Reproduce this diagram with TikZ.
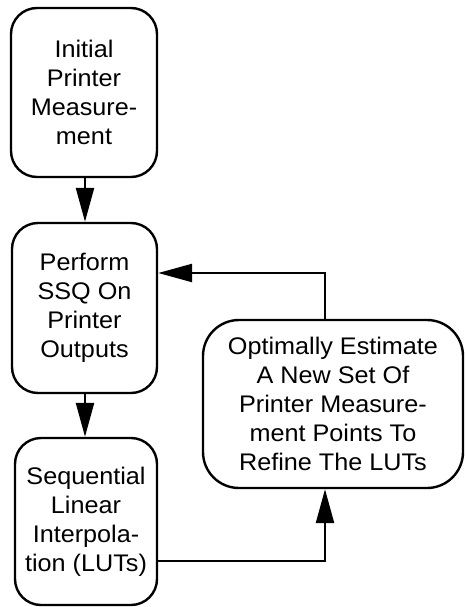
\documentclass[tikz,border=0pt]{standalone}
\usepackage{fontspec}
\setmainfont[FakeStretch=1.05]{Liberation Sans}
\usetikzlibrary{arrows.meta}
\begin{document}
\begin{tikzpicture}[x=1pt,y=1pt,
  procbox/.style={draw=black, line width=2.4pt, rounded corners=26pt, align=center,
    inner sep=0pt, font=\fontsize{24}{29}\selectfont},
  flow/.style={line width=2.4pt, -{Triangle[length=34pt,width=18pt]}}]
\useasboundingbox (0,0) rectangle (466,-607);
\node[procbox, minimum width=146pt, minimum height=169pt] (init) at (84,-92.5)
  {Initial\\Printer\\Measure-\\ment};
\node[procbox, minimum width=145pt, minimum height=170pt] (ssq) at (84.5,-308)
  {Perform\\SSQ On\\Printer\\Outputs};
\node[procbox, minimum width=142pt, minimum height=167pt] (seq) at (86,-521.5)
  {Sequential\\Linear\\Interpola-\\tion (LUTs)};
\node[procbox, rounded corners=36pt, minimum width=260pt, minimum height=168pt] (est) at (333,-404)
  {Optimally Estimate\\A New Set Of\\Printer Measure-\\ment Points To\\Refine The LUTs};
\coordinate (topturn) at (325,-273);
\coordinate (botturn) at (325,-561);
\draw[flow] (init.south -| 85,0) -- (ssq.north -| 85,0);
\draw[flow] (ssq.south -| 85,0) -- (seq.north -| 85,0);
\draw[flow] (est.north -| topturn) -- (topturn) -- (ssq.east |- topturn);
\draw[flow] (seq.east |- botturn) -- (botturn) -- (est.south -| botturn);
\end{tikzpicture}
\end{document}
